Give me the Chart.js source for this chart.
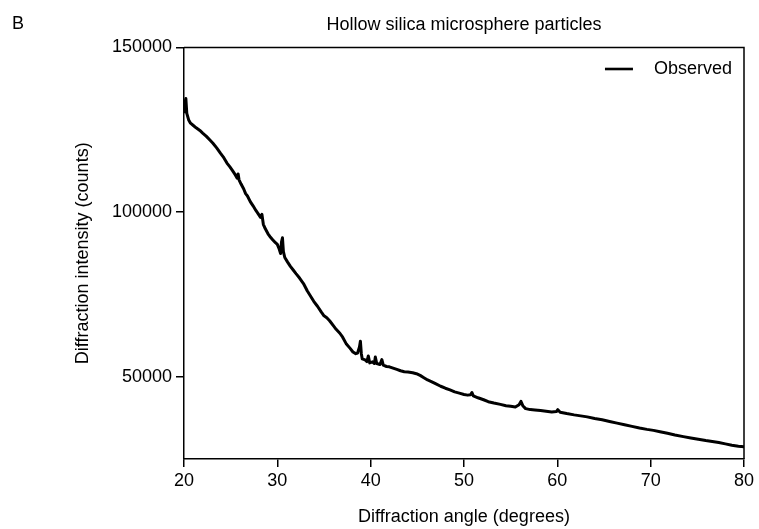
<!DOCTYPE html>
<html>
<head>
<meta charset="utf-8">
<script src="https://cdn.jsdelivr.net/npm/chart.js@4.4.1/dist/chart.umd.min.js"></script>
<style>
html,body{margin:0;padding:0;background:#fff;}
#wrap{width:759px;height:529px;position:relative;}
</style>
</head>
<body>
<div id="wrap"><canvas id="c" width="759" height="529"></canvas></div>
<script>
const panelLabel = 'B';
const chartTitle = 'Hollow silica microsphere particles';
const seriesName = 'Observed';
const xAxisTitle = 'Diffraction angle (degrees)';
const yAxisTitle = 'Diffraction intensity (counts)';

const angles = [
  20.0, 20.1, 20.2, 20.3, 20.5, 20.7, 21.0, 21.3, 21.7, 22.0, 22.4, 22.8, 23.1, 23.5, 23.9,
  24.2, 24.6, 24.9, 25.2, 25.5, 25.7, 25.8, 25.9, 26.1, 26.4, 26.6, 26.8, 27.1, 27.4, 27.7,
  27.9, 28.2, 28.35, 28.5, 28.7, 29.0, 29.2, 29.5, 29.8, 30.0, 30.2, 30.35, 30.45, 30.55, 30.65,
  30.8, 31.1, 31.4, 31.7, 32.0, 32.4, 32.8, 33.2, 33.6, 33.9, 34.3, 34.7, 35.0, 35.3, 35.6,
  36.0, 36.3, 36.7, 37.0, 37.4, 37.8, 38.1, 38.4, 38.6, 38.8, 38.9, 39.0, 39.1, 39.4, 39.6,
  39.75, 39.9, 40.2, 40.4, 40.5, 40.65, 41.0, 41.2, 41.35, 41.7, 42.0, 42.4, 42.8, 43.2, 43.6,
  44.0, 44.5, 44.9, 45.3, 45.7, 46.1, 46.5, 47.0, 47.5, 48.0, 48.5, 49.0, 49.5, 50.0, 50.4,
  50.7, 50.85, 51.0, 51.5, 52.1, 52.6, 53.2, 53.9, 54.5, 55.0, 55.5, 55.9, 56.1, 56.3, 56.6,
  57.1, 57.6, 58.2, 58.8, 59.4, 59.9, 60.05, 60.3, 61.0, 61.8, 62.5, 63.2, 64.0, 64.8, 65.6,
  66.4, 67.2, 68.0, 68.8, 69.6, 70.3, 71.0, 71.8, 72.6, 73.5, 74.3, 75.1, 75.9, 76.6, 77.3,
  78.0, 78.7, 79.4, 80.0
];
const counts = [
  130500, 133000, 134500, 130000, 128000, 127000, 126300, 125600, 124800, 124000, 123000, 121800, 120900, 119500, 117900,
  116800, 114900, 113800, 112600, 111300, 110300, 111600, 109800, 108600, 107000, 105600, 104900, 103200, 101900, 100500,
  99700, 98400, 99300, 96300, 95000, 93400, 92600, 91600, 90700, 90200, 88800, 87400, 91000, 92200, 88000,
  86200, 84800, 83500, 82400, 81300, 79900, 78300, 76100, 74300, 72900, 71400, 69700, 68500, 67900, 67000,
  65500, 64400, 63200, 62000, 59900, 58600, 57500, 57000, 57200, 59000, 60800, 57000, 55400, 55100, 54600,
  56300, 54200, 54500, 54000, 56000, 54000, 53700, 55200, 53500, 53100, 53000, 52600, 52200, 51800, 51500,
  51400, 51200, 50900, 50400, 49700, 49000, 48500, 47800, 47100, 46500, 46000, 45400, 45000, 44600, 44400,
  44500, 45200, 44200, 43600, 43000, 42400, 42000, 41600, 41200, 41000, 40800, 41500, 42500, 41200, 40300,
  40000, 39900, 39700, 39500, 39300, 39400, 40000, 39200, 38800, 38400, 38100, 37800, 37300, 36900, 36400,
  35900, 35400, 34900, 34400, 34000, 33700, 33300, 32800, 32300, 31800, 31400, 31000, 30600, 30300, 30000,
  29600, 29200, 28900, 28700
];
const xTickValues = [20, 30, 40, 50, 60, 70, 80];
const yTickValues = [50000, 100000, 150000];

const FONT = "'Liberation Sans', Arial, Helvetica, sans-serif";
const INK = '#000';

const decorPlugin = {
  id: 'decor',
  afterDraw(chart) {
    const {ctx, chartArea: a} = chart;
    ctx.save();
    // top and right frame
    ctx.strokeStyle = INK;
    ctx.lineWidth = 1.5;
    ctx.beginPath();
    ctx.moveTo(a.left, a.top);
    ctx.lineTo(a.right, a.top);
    ctx.lineTo(a.right, a.bottom);
    ctx.stroke();
    // panel letter
    ctx.fillStyle = INK;
    ctx.font = '18px ' + FONT;
    ctx.textBaseline = 'alphabetic';
    ctx.textAlign = 'left';
    ctx.fillText(panelLabel, 12, 28.5);
    // legend inside top-right of plot
    const label = chart.data.datasets[0].label;
    const textRight = a.right - 12;
    const midY = a.top + 21.5;
    const tw = ctx.measureText(label).width;
    const lineEnd = textRight - tw - 21;
    ctx.textAlign = 'right';
    ctx.textBaseline = 'middle';
    ctx.fillText(label, textRight, midY);
    ctx.lineWidth = 2.6;
    ctx.beginPath();
    ctx.moveTo(lineEnd - 28, midY);
    ctx.lineTo(lineEnd, midY);
    ctx.stroke();
    ctx.restore();
  }
};

new Chart(document.getElementById('c'), {
  type: 'scatter',
  data: {
    datasets: [{
      label: seriesName,
      data: angles.map((a, i) => ({x: a, y: counts[i]})),
      showLine: true,
      borderColor: INK,
      backgroundColor: INK,
      borderWidth: 3,
      pointRadius: 0,
      tension: 0,
      borderJoinStyle: 'round',
      borderCapStyle: 'round'
    }]
  },
  options: {
    responsive: false,
    animation: false,
    devicePixelRatio: 1,
    layout: { padding: { left: 0, right: 15, top: 0, bottom: 0 } },
    plugins: {
      title: {
        display: true,
        text: chartTitle,
        fullSize: false,
        color: INK,
        font: { family: FONT, size: 18, weight: 'normal' },
        padding: { top: 14.7, bottom: 11.2 }
      },
      legend: { display: false },
      tooltip: { enabled: false }
    },
    scales: {
      x: {
        type: 'linear',
        position: 'bottom',
        min: 20, max: 80,
        afterFit(s) { s.height = 70; },
        afterBuildTicks(s) { s.ticks = xTickValues.map(v => ({value: v})); },
        ticks: { color: INK, padding: 3, maxRotation: 0, font: { family: FONT, size: 18 } },
        grid: { display: true, drawOnChartArea: false, drawTicks: true, tickLength: 8, color: INK, lineWidth: 1.5 },
        border: { display: true, color: INK, width: 1.5 },
        title: { display: true, text: xAxisTitle, color: INK, font: { family: FONT, size: 18 }, padding: { top: 0, bottom: 1.2 } }
      },
      y: {
        type: 'linear',
        position: 'left',
        min: 25000, max: 150000,
        afterFit(s) { s.width = 184; },
        afterBuildTicks(s) { s.ticks = yTickValues.map(v => ({value: v})); },
        ticks: { color: INK, padding: 4, font: { family: FONT, size: 18 }, callback: v => String(v) },
        grid: { display: true, drawOnChartArea: false, drawTicks: true, tickLength: 8, color: INK, lineWidth: 1.5 },
        border: { display: true, color: INK, width: 1.5 },
        title: { display: true, text: yAxisTitle, color: INK, font: { family: FONT, size: 18 }, padding: { top: 72, bottom: 0 } }
      }
    }
  },
  plugins: [decorPlugin]
});
</script>
</body>
</html>
